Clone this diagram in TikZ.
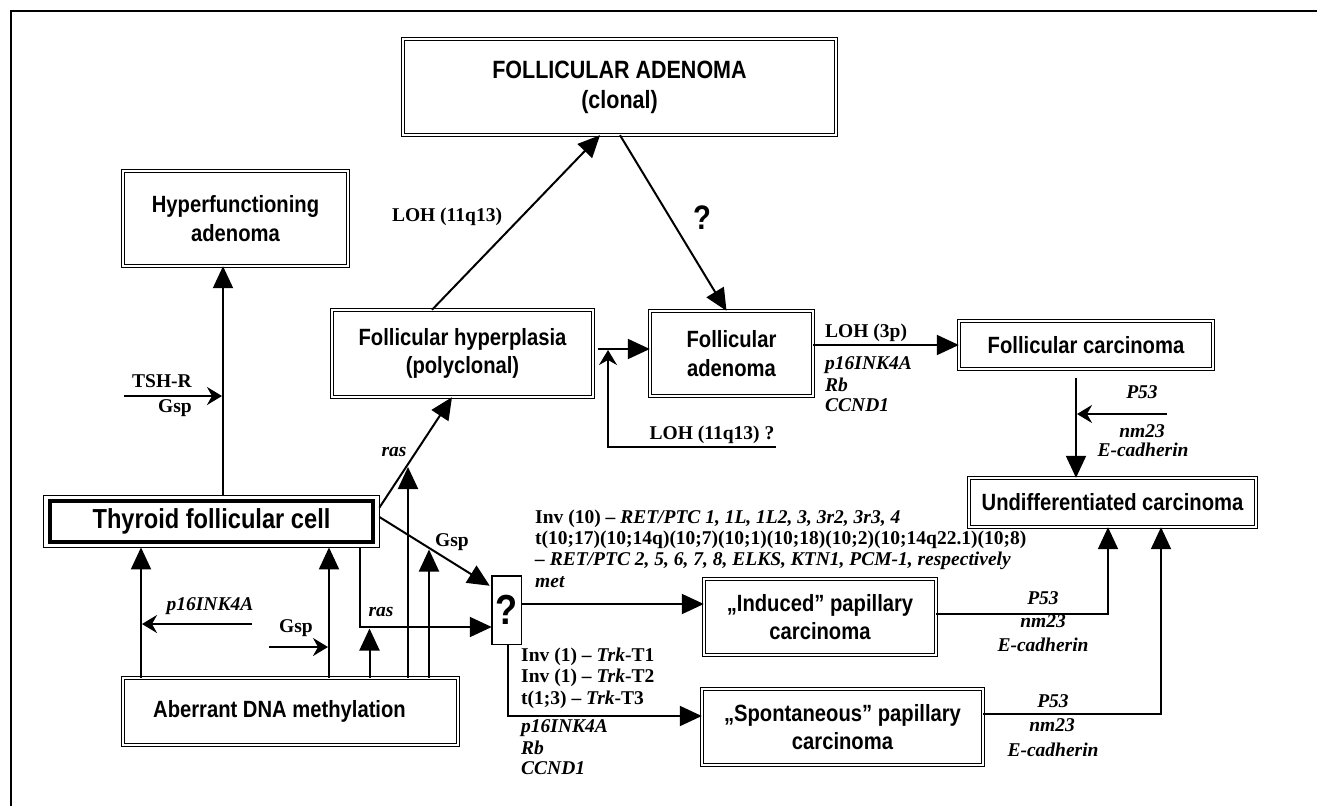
\documentclass[tikz,border=0pt]{standalone}
\usepackage{fontspec}
\setmainfont{Liberation Serif}
\newfontfamily\boxfont{Liberation Sans}[FakeStretch=0.86]
\usetikzlibrary{arrows.meta,calc}
\begin{document}
\begin{tikzpicture}[x=1pt,y=-1pt,
  bx/.style={draw, double, double distance=1.8pt, line width=0.9pt, inner sep=0pt, outer sep=0pt, align=center,
     font={\boxfont\bfseries\fontsize{23.5}{28.5}\selectfont}},
  qbox/.style={draw, line width=1.5pt, inner sep=0pt, outer sep=0pt, font={\boxfont\bfseries\fontsize{42}{42}\selectfont}},
  lbl/.style={inner sep=0pt, text height=13pt, text depth=4pt, font={\bfseries\fontsize{19.5}{21.5}\selectfont}},
  ilbl/.style={lbl, font={\bfseries\itshape\fontsize{19.5}{21.5}\selectfont}},
  bigarrow/.style={line width=2pt, -{Triangle[length=22pt,width=20pt]}},
  smallarrow/.style={line width=2pt, -{Stealth[length=15pt,width=18pt,inset=5pt]}},
  conn/.style={line width=2pt}
]
\useasboundingbox (0,0) rectangle (1317,806);
\draw[line width=2.5pt] (1317,11) -- (11,11) -- (11,806);

% boxes
\node[bx, minimum width=433.4pt, minimum height=96.4pt, font={\boxfont\bfseries\fontsize{25}{30}\selectfont}] (fa) at (619.5,87) {FOLLICULAR ADENOMA\\(clonal)};
\node[bx, minimum width=225.4pt, minimum height=95.4pt] (hyp) at (235.5,218.5) {Hyperfunctioning\\adenoma};
\node[bx, minimum width=261.4pt, minimum height=87.4pt] (fh) at (462.5,353.5) {Follicular hyperplasia\\(polyclonal)};
\node[bx, minimum width=163.4pt, minimum height=85.4pt] (fad) at (731.5,353.5) {Follicular\\adenoma};
\node[bx, minimum width=254.4pt, minimum height=48.4pt] (fc) at (1086,345) {Follicular carcinoma};
\node[bx, minimum width=287.4pt, minimum height=49.4pt] (ud) at (1112.5,502.5) {Undifferentiated carcinoma};
\node[bx, minimum width=232.4pt, minimum height=76.4pt] (ind) at (820,617) {„Induced” papillary\\carcinoma};
\node[bx, minimum width=281.4pt, minimum height=76.4pt] (spo) at (842.5,727) {„Spontaneous” papillary\\carcinoma};
\node[bx, minimum width=335.4pt, minimum height=67.4pt] (adm) at (290.5,711.5) {Aberrant DNA methylation\hspace*{22pt}};
\node[draw, line width=1.2pt, inner sep=0pt, outer sep=0pt, minimum width=335.8pt, minimum height=51.8pt,
      font={\boxfont\bfseries\fontsize{27.5}{30}\selectfont}] (tfc) at (211.5,521.5) {Thyroid follicular cell};
\draw[line width=4pt] ($(tfc.north west)+(6.5,5.5)$) rectangle ($(tfc.south east)+(-6.5,-5.5)$);
\node[qbox, minimum width=29.5pt, minimum height=68.5pt] (q) at (506.5,610) {?};

% free coordinates
\coordinate (tshA) at (124,396);
\coordinate (tshB) at (222,396);
\coordinate (fhj) at (598,349);
\coordinate (loh2) at (776,447);
\coordinate (fhu) at (608,350);
\coordinate (p53a) at (1167,414);
\coordinate (p53b) at (1077,414);
\coordinate (g1) at (408,467);
\coordinate (g2) at (429,549.5);
\coordinate (g3) at (369.5,628.5);
\coordinate (p16a) at (252,624);
\coordinate (p16b) at (142,624);
\coordinate (gspa) at (269,647);
\coordinate (gspb) at (328,647);

% connectors
\draw[bigarrow] ($(tfc.north)+(11.5,0)$) -- ($(hyp.south)+(-12.5,0)$);
\draw[smallarrow] (tshA) -- (tshB);
\draw[bigarrow] ($(fh.north)+(-30.5,0)$) -- ($(fa.south)+(-19.5,0)$);
\draw[bigarrow] ($(fa.south)+(0.5,0)$) -- ($(fad.north)+(-5,0)$);
\draw[bigarrow] (fhj) -- (fhj -| fad.west);
\draw[smallarrow] (loh2) -| (fhu);
\draw[bigarrow] (fc.west -| fad.east) -- (fc.west);
\draw[bigarrow] ($(fc.south)+(-10,9)$) -- ($(ud.north)+(-36.5,0)$);
\draw[smallarrow] (p53a) -- (p53b);
\draw[bigarrow] ($(ind.east)+(0,-3)$) -| ($(ud.south)+(-4.5,0)$);
\draw[bigarrow] ($(spo.east)+(0,-13)$) -| ($(ud.south)+(48.5,0)$);
\draw[bigarrow] ($(tfc.north east)+(0,12)$) -- ($(fh.south)+(-10.5,0)$);
\draw[bigarrow] ($(adm.north)+(117.5,0)$) -- (g1);
\draw[bigarrow] ($(adm.north)+(138.5,0)$) -- (g2);
\draw[bigarrow] ($(tfc.east)+(0,-4.5)$) -- ($(q.north west)+(-2,10)$);
\draw[bigarrow] ($(adm.north)+(79,0)$) -- (g3);
\draw[bigarrow] ($(tfc.south)+(148.5,0)$) |- ($(q.west)+(0,17)$);
\draw[bigarrow] ($(adm.north)+(-149.5,0)$) -- ($(tfc.south)+(-70.5,0)$);
\draw[bigarrow] ($(adm.north)+(38.5,0)$) -- ($(tfc.south)+(117.5,0)$);
\draw[smallarrow] (p16a) -- (p16b);
\draw[smallarrow] (gspa) -- (gspb);
\draw[bigarrow] ($(q.east)+(0,-6)$) -- ($(ind.west)+(0,-13)$);
\draw[bigarrow] ($(q.south)+(1.5,0)$) |- ($(spo.west)+(0,-11)$);

% labels
\node[lbl] (tshR) at (162,383) {TSH-R};
\node[lbl] (tshG) at (175,408) {Gsp};
\node[lbl] (loh1) at (447,217) {LOH (11q13)};
\node[inner sep=0pt, font={\boxfont\bfseries\fontsize{34}{34}\selectfont}] (qm) at (702,218) {?};
\node[lbl] (loh3) at (712,435) {LOH (11q13) ?};
\node[lbl, anchor=west] (loh4) at (825,333) {LOH (3p)};
\node[ilbl, anchor=west] (fp16) at (825,365) {p16INK4A};
\node[ilbl, anchor=west] (frb) at (825,387) {Rb};
\node[ilbl, anchor=west] (fccnd) at (825,407) {CCND1};
\node[ilbl] (cp53) at (1142,394) {P53};
\node[ilbl] (cnm) at (1142,433) {nm23};
\node[ilbl] (cec) at (1143,452) {E-cadherin};
\node[ilbl] (ras1) at (394,452) {ras};
\node[lbl] (gsp1) at (452,542) {Gsp};
\node[ilbl] (p16l) at (210,606) {p16INK4A};
\node[lbl] (gsp2) at (296,628) {Gsp};
\node[ilbl] (ras2) at (381,612) {ras};
\node[lbl, anchor=west] (inv1) at (535,519) {Inv (10) – \textit{RET/PTC 1, 1L, 1L2, 3, 3r2, 3r3, 4}};
\node[lbl, anchor=west] (inv2) at (535,540) {t(10;17)(10;14q)(10;7)(10;1)(10;18)(10;2)(10;14q22.1)(10;8)};
\node[ilbl, anchor=west] (inv3) at (535,561) {– RET/PTC 2, 5, 6, 7, 8, ELKS, KTN1, PCM-1, respectively};
\node[ilbl, anchor=west] (inv4) at (535,583) {met};
\node[lbl, anchor=west] (trk1) at (521,657) {Inv (1) – \textit{Trk}-T1};
\node[lbl, anchor=west] (trk2) at (521,678) {Inv (1) – \textit{Trk}-T2};
\node[lbl, anchor=west] (trk3) at (521,700) {t(1;3) – \textit{Trk}-T3};
\node[ilbl, anchor=west] (sp16) at (521,728) {p16INK4A};
\node[ilbl, anchor=west] (srb) at (521,750) {Rb};
\node[ilbl, anchor=west] (sccnd) at (521,770) {CCND1};
\node[ilbl] (ip53) at (1043,600) {P53};
\node[ilbl] (inm) at (1043,623) {nm23};
\node[ilbl] (iec) at (1043,647) {E-cadherin};
\node[ilbl] (sp53) at (1053,703) {P53};
\node[ilbl] (snm) at (1052,727) {nm23};
\node[ilbl] (sec) at (1053,752) {E-cadherin};
\end{tikzpicture}
\end{document}
